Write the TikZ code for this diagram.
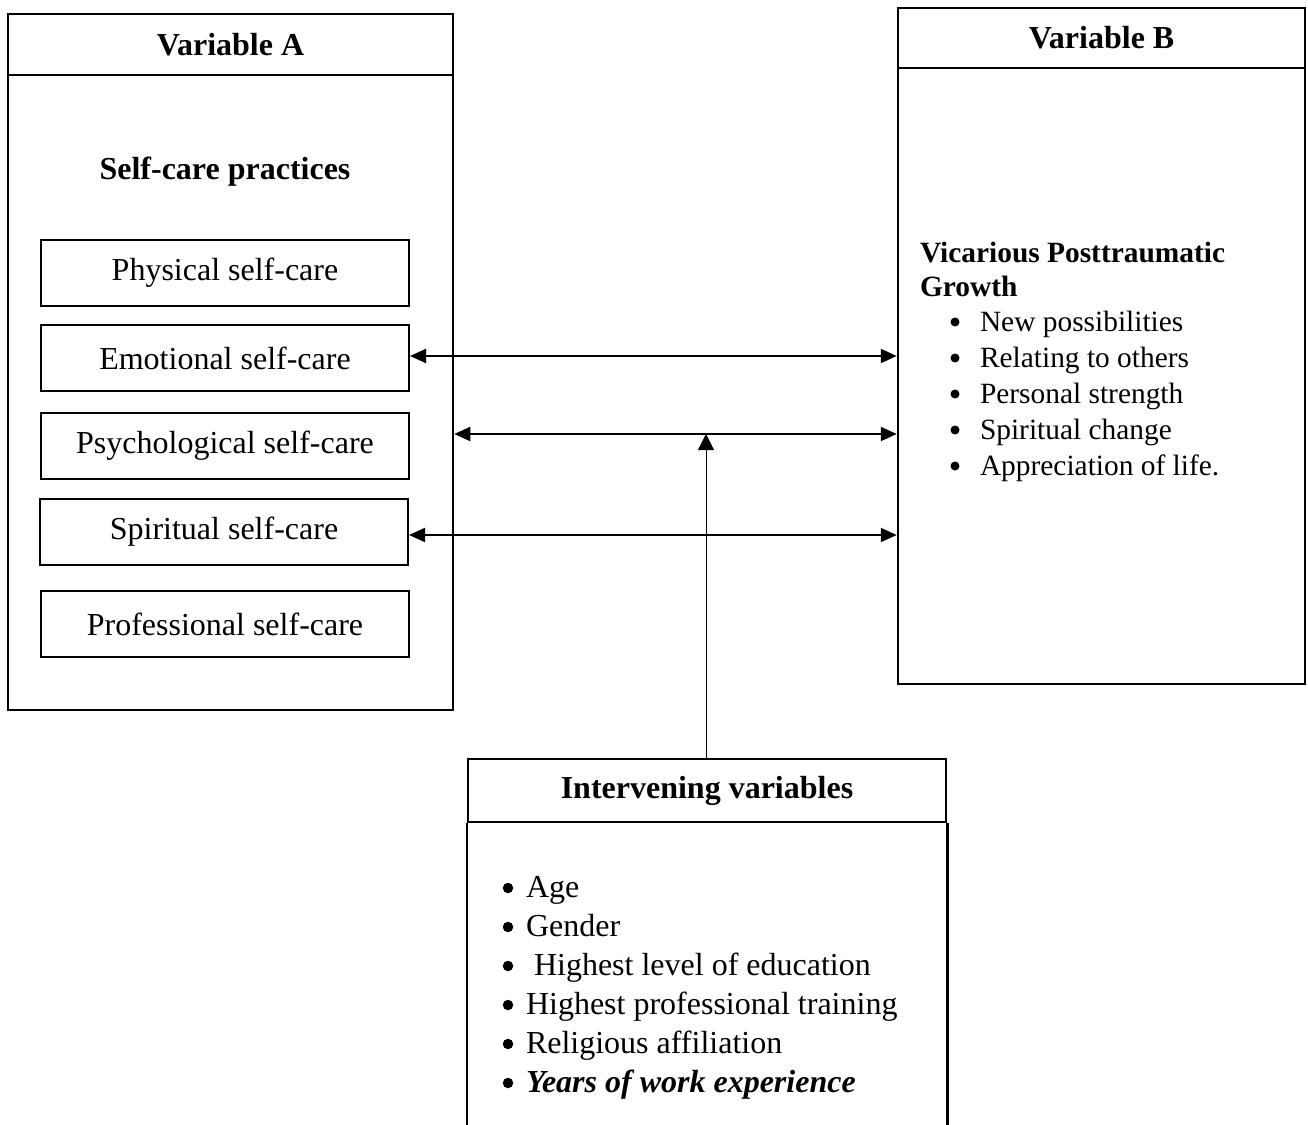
\documentclass[tikz,border=0pt]{standalone}
\usepackage{fontspec}
\setmainfont{Liberation Serif}
\usetikzlibrary{arrows.meta}
\newcommand\txtA{\fontsize{32pt}{38pt}\selectfont}
\newcommand\txtB{\fontsize{29.4pt}{36pt}\selectfont}
\tikzset{
  outerbox/.style={draw, line width=2.5pt, inner sep=0pt, rectangle},
  innerbox/.style={draw, line width=2pt, inner sep=0pt, rectangle, minimum width=368pt, minimum height=66pt, font=\txtA},
  hdr/.style={outerbox, font=\txtA\bfseries},
  plain/.style={inner sep=0pt, outer sep=0pt},
  dotA/.style={circle, fill, inner sep=0pt, minimum size=10.5pt},
  dotB/.style={circle, fill, inner sep=0pt, minimum size=9pt},
  link/.style={line width=2pt, {Triangle[length=16pt,width=14pt]}-{Triangle[length=16pt,width=14pt]}},
  feed/.style={line width=1pt, -{Triangle[length=16pt,width=16pt]}},
}
\begin{document}
\begin{tikzpicture}[x=1pt,y=-1pt]
\useasboundingbox (0,0) rectangle (1308,1124);
% Variable A
\node[outerbox, minimum width=445pt, minimum height=696pt] (A) at (230.5,362) {};
\node[hdr, minimum width=445pt, minimum height=61pt] (Ah) at (230.5,44.5) {Variable A};
\node[plain, font=\txtA\bfseries] (sc) at (225,172) {Self-care practices};
\node[innerbox] (P1) at (225,273) {Physical self-care};
\node[innerbox] (P2) at (225,358) {Emotional self-care};
\node[innerbox] (P3) at (225,445.5) {Psychological self-care};
\node[innerbox] (P4) at (224,532) {Spiritual self-care};
\node[innerbox] (P5) at (225,624) {Professional self-care};
% Variable B
\node[outerbox, minimum width=407pt, minimum height=676pt] (B) at (1101.5,346) {};
\node[hdr, minimum width=407pt, minimum height=60pt] (Bh) at (1101.5,38) {Variable B};
\node[plain, anchor=base west, font=\txtB\bfseries] (vh1) at (920,262) {Vicarious Posttraumatic};
\node[plain, anchor=base west, font=\txtB\bfseries] (vh2) at (920,296) {Growth};
\foreach \k/\t [count=\n] in {0/New possibilities, 1/Relating to others, 2/Personal strength, 3/Spiritual change, 4/Appreciation of life.}{
  \node[dotB] (bb\n) at (955,322+36*\k) {};
  \node[plain, anchor=base west, font=\txtB] (bt\n) at (980,331+36*\k) {\t};
}
% Intervening
\node[hdr, minimum width=478pt, minimum height=63pt] (Ih) at (707,790.5) {Intervening variables};
\coordinate (bot) at (0,1135);
\draw[line width=2.5pt] (Ih.south west) -- (Ih.south west |- bot);
\draw[line width=2.5pt] (Ih.south east) -- (Ih.south east |- bot);
\foreach \k/\t/\xx [count=\n] in {0/Age/526, 1/Gender/526, 2/Highest level of education/534, 3/Highest professional training/526, 4/Religious affiliation/526}{
  \node[dotA] (ib\n) at (508,888+39*\k) {};
  \node[plain, anchor=base west, font=\txtA] (it\n) at (\xx,897+39*\k) {\t};
}
\node[dotA] (ib6) at (508,1083) {};
\node[plain, anchor=base west, font=\txtA\bfseries\itshape] (it6) at (526,1092) {Years of work experience};
% connectors
\coordinate (m) at (706,434);
\coordinate (e2) at ([yshift=2pt]P2.east);
\coordinate (e4) at ([yshift=-3pt]P4.east);
\draw[link] (e2) -- (B.west |- e2);
\draw[link] (A.east |- m) -- (B.west |- m);
\draw[link] (e4) -- (B.west |- e4);
\draw[feed] (Ih.north -| m) -- (m);
\end{tikzpicture}
\end{document}
